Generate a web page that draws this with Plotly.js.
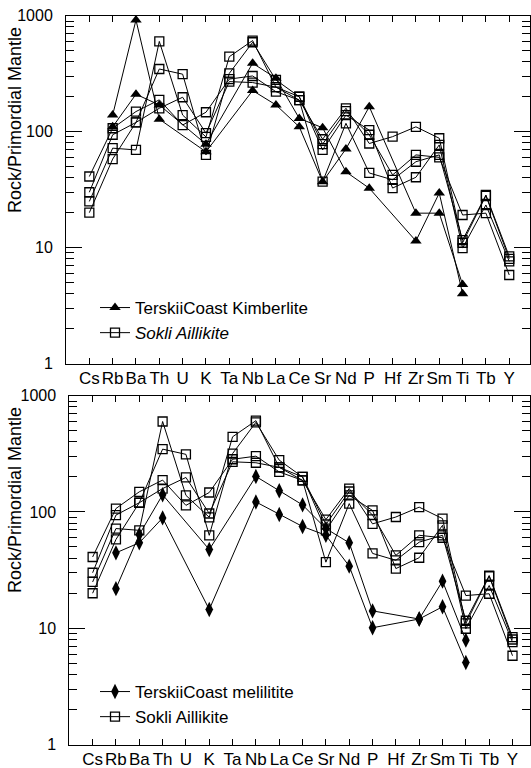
<!DOCTYPE html>
<html><head><meta charset="utf-8">
<script src="https://cdn.plot.ly/plotly-3.0.1.min.js"></script>
<style>html,body{margin:0;padding:0;background:#fff}#chart{width:531px;height:768px}</style>
</head><body><div id="chart"></div>
<script>
const elements = ['Cs','Rb','Ba','Th','U','K','Ta','Nb','La','Ce','Sr','Nd','P','Hf','Zr','Sm','Ti','Tb','Y'];

// Sokli aillikite samples (same in both panels)
const sokliA = [25, 72, 69.5, 600, 139, 90, 443, 610, 242, 187, 37, 118, 44, 38.4, 55, 63, 11.6, 28.4, 8.4];
const sokliB = [20, 58, 120, 347, 313, 63, 318, 590, 279, 200, 69.5, 139, 103, 32.6, 40.4, 76.8, 9.9, 23.3, 7.6];
const sokliC = [41, 107, 149, 188, 114, 147, 284, 302, 221, 187, 86, 159, 79, 90.5, 110, 87.7, 11, 28, 8.0];
const sokliD = [30, 94, 120, 159, 198, 97, 270, 265, 242, 200, 78, 150, 94, 42.3, 63, 60, 19.1, 19.8, 5.8];

// Terskii Coast kimberlite samples
const kimbA = [null, 139, 918, 128, null, 67, null, 226, 170, 110, 37, 71, 164, null, 19.8, 19.8, 4.8, null, null];
const kimbB = [null, 110, 210, 170, null, 78, null, 389, 289, 130, 108, 45, 32.5, null, 11.4, 29.5, 4.0, null, null];

// Terskii Coast melilitite samples
const melA = [null, 44.5, 54.3, 88.9, null, 14.5, null, 122, 95, 75, 63, 34.2, 10.1, null, 12, 25.4, 7.9, null, null];
const melB = [null, 21.9, 63.9, 140.7, null, 47.5, null, 202, 152, 115, 72, 54.3, 14.1, null, 12, 15.3, 5.08, null, null];

const yTickVals = [1, 10, 100, 1000];
const yTickText = ['1', '10', '100', '1000'];
const minorVals = [2,3,4,5,6,7,8,9,20,30,40,50,60,70,80,90,200,300,400,500,600,700,800,900];

const FONT = 'Liberation Sans, Arial, Helvetica, sans-serif';
const W = 531, H = 768;

function sq(y, xa, ya, name, show, legend) {
  return {x: elements, y: y, xaxis: xa, yaxis: ya, type: 'scatter', mode: 'lines+markers',
    connectgaps: true, name: name, showlegend: show, legend: legend,
    line: {color: '#000', width: 1},
    marker: {symbol: 'square-open', size: 9, color: '#000', line: {width: 1.3, color: '#000'}}};
}
function filled(y, xa, ya, name, show, legend, sym, size) {
  return {x: elements, y: y, xaxis: xa, yaxis: ya, type: 'scatter', mode: 'lines+markers',
    connectgaps: true, name: name, showlegend: show, legend: legend,
    line: {color: '#000', width: 1},
    marker: {symbol: sym, size: size, color: '#000', line: {width: 0}}};
}

const traces = [
  filled(kimbA, 'x', 'y', 'TerskiiCoast Kimberlite', true, 'legend', 'triangle-up', 10),
  filled(kimbB, 'x', 'y', 'TerskiiCoast Kimberlite', false, 'legend', 'triangle-up', 10),
  sq(sokliA, 'x', 'y', '<i>Sokli Aillikite</i>', true, 'legend'),
  sq(sokliB, 'x', 'y', 'Sokli', false, 'legend'),
  sq(sokliC, 'x', 'y', 'Sokli', false, 'legend'),
  sq(sokliD, 'x', 'y', 'Sokli', false, 'legend'),
  filled(melA, 'x2', 'y2', 'TerskiiCoast melilitite', true, 'legend2', 'diamond-tall', 11),
  filled(melB, 'x2', 'y2', 'TerskiiCoast melilitite', false, 'legend2', 'diamond-tall', 11),
  sq(sokliA, 'x2', 'y2', 'Sokli Aillikite', true, 'legend2'),
  sq(sokliB, 'x2', 'y2', 'Sokli', false, 'legend2'),
  sq(sokliC, 'x2', 'y2', 'Sokli', false, 'legend2'),
  sq(sokliD, 'x2', 'y2', 'Sokli', false, 'legend2')
];

function xax(domain, range, anchor) {
  return {domain: domain, range: range, anchor: anchor, type: 'category',
    showline: true, linecolor: '#000', linewidth: 1, mirror: 'ticks',
    ticks: 'inside', ticklen: 6, tickwidth: 1, tickcolor: '#000', tickangle: 0,
    showgrid: false, zeroline: false, ticklabelstandoff: -1,
    tickfont: {family: FONT, size: 17, color: '#000'}};
}
function yax(domain, anchor) {
  return {domain: domain, anchor: anchor, type: 'log', range: [0, 3],
    tickmode: 'array', tickvals: yTickVals, ticktext: yTickText,
    showline: true, linecolor: '#000', linewidth: 1, mirror: 'ticks',
    ticks: 'inside', ticklen: 16, tickwidth: 1, tickcolor: '#000',
    minor: {tickmode: 'array', tickvals: minorVals, ticks: 'inside', ticklen: 8, tickwidth: 1, tickcolor: '#000', showgrid: false},
    showgrid: false, zeroline: false, ticklabelstandoff: 9,
    tickfont: {family: FONT, size: 16, color: '#000'}};
}

const layout = {
  width: W, height: H,
  margin: {l: 0, r: 0, t: 0, b: 0},
  paper_bgcolor: '#fff', plot_bgcolor: '#fff',
  font: {family: FONT, color: '#000'},
  xaxis: xax([66 / W, 530 / W], [-1, 18.89], 'y'),
  yaxis: yax([1 - 363.5 / H, 1 - 15.7 / H], 'x'),
  xaxis2: xax([69.3 / W, 530 / W], [-1, 18.75], 'y2'),
  yaxis2: yax([1 - 744.5 / H, 1 - 395.7 / H], 'x2'),
  legend: {x: 95 / W, y: 1 - 290 / H, xanchor: 'left', yanchor: 'top', bgcolor: 'rgba(0,0,0,0)',
    font: {family: FONT, size: 17, color: '#000'}, tracegroupgap: 0, itemwidth: 30},
  legend2: {x: 95 / W, y: 1 - 674 / H, xanchor: 'left', yanchor: 'top', bgcolor: 'rgba(0,0,0,0)',
    font: {family: FONT, size: 17, color: '#000'}, tracegroupgap: 0, itemwidth: 30},
  annotations: [
    {text: 'Rock/Primordial Mantle', textangle: -90, xref: 'paper', yref: 'paper',
     xanchor: 'center', yanchor: 'middle',
     x: 15 / W, y: 1 - 120 / H, showarrow: false, font: {family: FONT, size: 18, color: '#000'}},
    {text: 'Rock/Primordial Mantle', textangle: -90, xref: 'paper', yref: 'paper',
     xanchor: 'center', yanchor: 'middle',
     x: 15 / W, y: 1 - 500 / H, showarrow: false, font: {family: FONT, size: 18, color: '#000'}}
  ]
};

Plotly.newPlot('chart', traces, layout, {staticPlot: true, displayModeBar: false});
</script>
</body></html>
